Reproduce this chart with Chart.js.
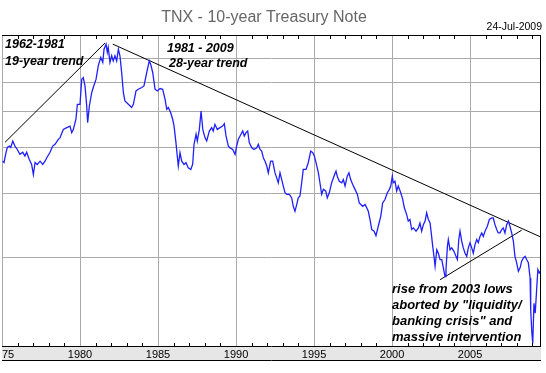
<!DOCTYPE html>
<html>
<head>
<meta charset="utf-8">
<title>TNX - 10-year Treasury Note</title>
<script src="https://cdn.jsdelivr.net/npm/chart.js@4.4.1/dist/chart.umd.min.js"></script>
<style>
  body { margin: 0; background: #fff; }
  canvas { display: block; }
</style>
</head>
<body>
<canvas id="tnxChart" width="546" height="373"></canvas>
<script>
// TNX closes (decimal year, yield in %)
const years = [
  1975.04, 1975.13, 1975.26, 1975.34, 1975.47, 1975.56, 1975.69, 1975.83, 1975.98, 1976.15,
  1976.33, 1976.47, 1976.58, 1976.75, 1976.90, 1977.01, 1977.12, 1977.26, 1977.44, 1977.61,
  1977.76, 1977.87, 1978.08, 1978.25, 1978.40, 1978.61, 1978.72, 1978.93, 1979.15, 1979.36,
  1979.47, 1979.57, 1979.74, 1979.83, 1980.00, 1980.11, 1980.21, 1980.32, 1980.43, 1980.49,
  1980.60, 1980.75, 1980.85, 1981.03, 1981.17, 1981.33, 1981.46, 1981.54, 1981.67, 1981.75,
  1981.81, 1981.92, 1982.03, 1982.13, 1982.24, 1982.35, 1982.46, 1982.56, 1982.67, 1982.78,
  1982.88, 1983.10, 1983.31, 1983.42, 1983.59, 1983.74, 1983.96, 1984.10, 1984.28, 1984.44,
  1984.53, 1984.66, 1984.81, 1984.96, 1985.13, 1985.30, 1985.45, 1985.56, 1985.66, 1985.81,
  1985.94, 1986.03, 1986.15, 1986.30, 1986.41, 1986.52, 1986.67, 1986.79, 1986.94, 1987.10,
  1987.22, 1987.31, 1987.44, 1987.52, 1987.65, 1987.76, 1987.87, 1988.01, 1988.12, 1988.29,
  1988.44, 1988.54, 1988.65, 1988.80, 1988.97, 1989.14, 1989.25, 1989.36, 1989.51, 1989.62,
  1989.79, 1989.94, 1990.04, 1990.15, 1990.26, 1990.43, 1990.53, 1990.64, 1990.75, 1990.85,
  1991.01, 1991.15, 1991.33, 1991.43, 1991.54, 1991.65, 1991.75, 1991.86, 1991.97, 1992.07,
  1992.22, 1992.35, 1992.50, 1992.61, 1992.71, 1992.82, 1992.93, 1993.03, 1993.14, 1993.25,
  1993.42, 1993.57, 1993.67, 1993.78, 1993.89, 1993.99, 1994.10, 1994.21, 1994.31, 1994.49,
  1994.63, 1994.79, 1994.92, 1995.02, 1995.13, 1995.28, 1995.38, 1995.49, 1995.60, 1995.75,
  1995.85, 1995.98, 1996.13, 1996.28, 1996.41, 1996.49, 1996.62, 1996.78, 1996.88, 1996.99,
  1997.13, 1997.24, 1997.35, 1997.48, 1997.63, 1997.78, 1997.90, 1998.12, 1998.27, 1998.38,
  1998.48, 1998.59, 1998.70, 1998.85, 1998.97, 1999.12, 1999.28, 1999.40, 1999.55, 1999.70,
  1999.83, 1999.92, 2000.02, 2000.08, 2000.19, 2000.30, 2000.40, 2000.56, 2000.69, 2000.79,
  2000.94, 2001.04, 2001.15, 2001.26, 2001.37, 2001.54, 2001.69, 2001.79, 2001.90, 2002.01,
  2002.12, 2002.22, 2002.33, 2002.44, 2002.54, 2002.61, 2002.69, 2002.76, 2002.87, 2002.97,
  2003.08, 2003.19, 2003.29, 2003.40, 2003.46, 2003.55, 2003.61, 2003.72, 2003.83, 2003.97,
  2004.10, 2004.19, 2004.28, 2004.36, 2004.47, 2004.57, 2004.68, 2004.79, 2004.89, 2005.00,
  2005.11, 2005.21, 2005.32, 2005.43, 2005.53, 2005.64, 2005.75, 2005.85, 2005.96, 2006.11,
  2006.24, 2006.39, 2006.49, 2006.60, 2006.71, 2006.81, 2006.92, 2007.03, 2007.13, 2007.24,
  2007.35, 2007.46, 2007.56, 2007.67, 2007.78, 2007.88, 2007.99, 2008.10, 2008.21, 2008.31,
  2008.42, 2008.53, 2008.63, 2008.74, 2008.85, 2008.89, 2008.96, 2009.02, 2009.10, 2009.18,
  2009.27, 2009.35, 2009.44, 2009.48
];
const yields = [
  7.33, 7.27, 7.75, 7.99, 8.06, 7.99, 8.32, 8.06, 7.89, 7.65,
  7.75, 7.57, 7.75, 7.41, 7.18, 6.74, 7.27, 7.18, 7.33, 7.18,
  7.33, 7.49, 7.75, 8.06, 8.15, 8.41, 8.50, 8.95, 9.05, 9.14,
  8.77, 8.95, 9.54, 10.48, 10.48, 12.27, 12.40, 11.76, 10.37, 9.34,
  10.37, 11.28, 11.65, 12.27, 13.35, 14.07, 13.64, 14.82, 15.30, 14.52,
  14.98, 13.64, 14.22, 13.77, 14.22, 13.77, 14.82, 14.22, 12.80, 11.28,
  10.70, 10.48, 10.27, 10.48, 11.40, 11.52, 11.65, 11.76, 12.80, 13.77,
  13.49, 12.80, 11.52, 11.40, 11.57, 11.52, 10.82, 10.16, 10.27, 9.95,
  9.54, 9.14, 8.24, 7.11, 7.73, 7.33, 7.18, 7.26, 7.03, 6.96,
  7.18, 8.15, 8.68, 8.32, 8.95, 10.05, 8.95, 8.50, 8.32, 8.86,
  9.05, 8.86, 9.24, 8.95, 9.05, 9.14, 9.28, 8.59, 8.06, 7.97,
  7.89, 7.65, 8.06, 8.41, 8.59, 8.86, 8.59, 8.77, 8.86, 8.24,
  7.97, 7.89, 7.97, 8.15, 7.89, 7.81, 7.49, 7.33, 7.11, 6.81,
  7.33, 7.33, 6.81, 6.60, 6.40, 6.81, 6.53, 6.27, 6.01, 5.95,
  5.95, 5.82, 5.52, 5.35, 5.58, 5.82, 5.89, 6.40, 6.96, 6.96,
  7.26, 7.81, 7.73, 7.57, 7.26, 6.81, 6.40, 5.95, 6.14, 6.08,
  5.82, 6.01, 6.40, 6.67, 6.89, 6.67, 6.46, 6.40, 6.53, 6.27,
  6.67, 6.81, 6.53, 6.33, 6.14, 5.95, 5.64, 5.52, 5.58, 5.47,
  5.35, 5.08, 4.77, 4.72, 4.59, 4.87, 5.19, 5.64, 5.76, 6.01,
  6.14, 6.27, 6.67, 6.40, 6.46, 6.08, 6.27, 6.01, 5.76, 5.47,
  5.24, 5.03, 5.08, 4.77, 4.82, 4.72, 4.82, 4.97, 4.72, 4.92,
  5.03, 5.30, 5.08, 4.97, 4.57, 4.29, 4.03, 3.79, 4.20, 4.11,
  3.95, 3.95, 3.75, 3.55, 3.71, 4.29, 4.48, 4.20, 4.25, 4.16,
  4.03, 3.95, 4.48, 4.72, 4.43, 4.25, 4.11, 4.03, 4.25, 4.39,
  4.25, 4.11, 4.34, 4.48, 4.39, 4.57, 4.67, 4.57, 4.72, 4.87,
  5.08, 5.13, 5.13, 4.92, 4.77, 4.67, 4.67, 4.77, 4.82, 4.67,
  4.92, 5.03, 4.87, 4.67, 4.43, 4.03, 3.87, 3.67, 3.75, 3.91,
  3.99, 4.03, 3.95, 3.87, 3.52, 2.88, 2.51, 2.33, 3.00, 2.82,
  3.27, 3.71, 3.63, 3.67
];

// trend lines drawn on the original
const trend1Yrs = [1975.19, 1981.60];
const trend1Vals = [8.25, 15.40];
const trend2Yrs = [1982.10, 2009.49];
const trend2Vals = [15.30, 4.56];
const trend3Yrs = [2003.08, 2008.31];
const trend3Vals = [3.48, 4.75];

const gridYields = [4, 6, 8, 10, 12, 14];

const toPoints = (xs, ys) => xs.map((x, i) => ({ x: x, y: ys[i] }));

const FONT = '"Liberation Sans", Arial, sans-serif';

const decor = {
  id: 'decor',
  beforeDraw(chart) {
    const ctx = chart.ctx, a = chart.chartArea;
    ctx.save();
    ctx.fillStyle = '#fff';
    ctx.fillRect(0, 0, chart.width, chart.height);
    // grey band behind the year labels
    ctx.fillStyle = '#e6e6e6';
    ctx.fillRect(a.left, a.bottom, a.right - a.left, 13);
    ctx.restore();
  },
  afterDatasetsDraw(chart) {
    const ctx = chart.ctx, a = chart.chartArea, xs = chart.scales.x;
    ctx.save();
    ctx.strokeStyle = '#000';
    ctx.lineWidth = 1;
    ctx.beginPath();
    ctx.moveTo(a.left, a.top + 0.5); ctx.lineTo(a.right, a.top + 0.5);
    ctx.moveTo(a.right - 0.5, a.top); ctx.lineTo(a.right - 0.5, a.bottom);
    ctx.moveTo(a.left, a.bottom - 0.5); ctx.lineTo(a.right, a.bottom - 0.5);
    ctx.moveTo(a.left, a.bottom + 13.5); ctx.lineTo(a.right, a.bottom + 13.5);
    // yearly minor ticks, top and bottom
    for (let yr = Math.ceil(xs.min); yr < xs.max; yr++) {
      if (yr % 5 === 0) continue;
      const px = Math.round(xs.getPixelForValue(yr)) + 0.5;
      ctx.moveTo(px, a.bottom); ctx.lineTo(px, a.bottom - 4);
      ctx.moveTo(px, a.top); ctx.lineTo(px, a.top + 4);
    }
    ctx.stroke();

    // title and date
    ctx.fillStyle = '#666';
    ctx.font = '16px ' + FONT;
    ctx.textAlign = 'center';
    ctx.textBaseline = 'alphabetic';
    ctx.fillText('TNX - 10-year Treasury Note', 264, 22);
    ctx.fillStyle = '#000';
    ctx.font = '10.5px ' + FONT;
    ctx.textAlign = 'right';
    ctx.fillText('24-Jul-2009', 542, 30);

    // notes
    ctx.textAlign = 'left';
    ctx.font = 'italic bold 12.5px ' + FONT;
    ctx.fillText('1962-1981', 5, 48);
    ctx.fillText('19-year trend', 5, 65);
    ctx.fillText('1981 - 2009', 167, 52);
    ctx.fillText('28-year trend', 169, 67);
    ctx.font = 'italic bold 13px ' + FONT;
    const lines = ['rise from 2003 lows', 'aborted by "liquidity/', 'banking crisis" and', 'massive intervention'];
    lines.forEach((t, i) => ctx.fillText(t, 392, 293 + i * 16));
    ctx.restore();
  },
  afterDraw(chart) {
    // the first year label is cut off at the plot edge
    const ctx = chart.ctx, a = chart.chartArea;
    ctx.save();
    ctx.fillStyle = '#fff';
    ctx.fillRect(0, a.bottom, a.left, chart.height - a.bottom);
    ctx.restore();
  }
};

const trendStyle = { borderColor: '#000', borderWidth: 1, pointRadius: 0, fill: false };

new Chart(document.getElementById('tnxChart'), {
  type: 'line',
  data: {
    datasets: [
      { data: toPoints(years, yields), borderColor: '#2020ff', borderWidth: 1.3, pointRadius: 0, tension: 0 },
      Object.assign({ data: toPoints(trend1Yrs, trend1Vals) }, trendStyle),
      Object.assign({ data: toPoints(trend2Yrs, trend2Vals) }, trendStyle),
      Object.assign({ data: toPoints(trend3Yrs, trend3Vals) }, trendStyle)
    ]
  },
  options: {
    responsive: false,
    animation: false,
    devicePixelRatio: 1,
    layout: { padding: { left: 2, right: 5, top: 35, bottom: 0 } },
    plugins: { legend: { display: false }, tooltip: { enabled: false } },
    scales: {
      x: {
        type: 'linear',
        min: 1975,
        max: 2009.55,
        border: { display: false },
        grid: {
          drawTicks: false,
          color: (c) => (c.tick && c.tick.value % 5 === 0 ? '#aaa' : 'rgba(0,0,0,0)')
        },
        ticks: {
          stepSize: 5,
          autoSkip: false,
          maxRotation: 0,
          padding: 1,
          color: '#000',
          font: { family: FONT, size: 11 },
          callback: (v) => (v % 5 === 0 ? String(v) : '')
        },
        afterFit: (s) => { s.height = 26; s.paddingLeft = 0; s.paddingRight = 0; }
      },
      y: {
        type: 'logarithmic',
        min: 2.28,
        max: 16.2,
        border: { display: false },
        grid: { drawTicks: false, color: '#aaa' },
        ticks: { display: false },
        afterBuildTicks: (s) => { s.ticks = gridYields.map((v) => ({ value: v })); },
        afterFit: (s) => { s.width = 0; }
      }
    }
  },
  plugins: [decor]
});
</script>
</body>
</html>
